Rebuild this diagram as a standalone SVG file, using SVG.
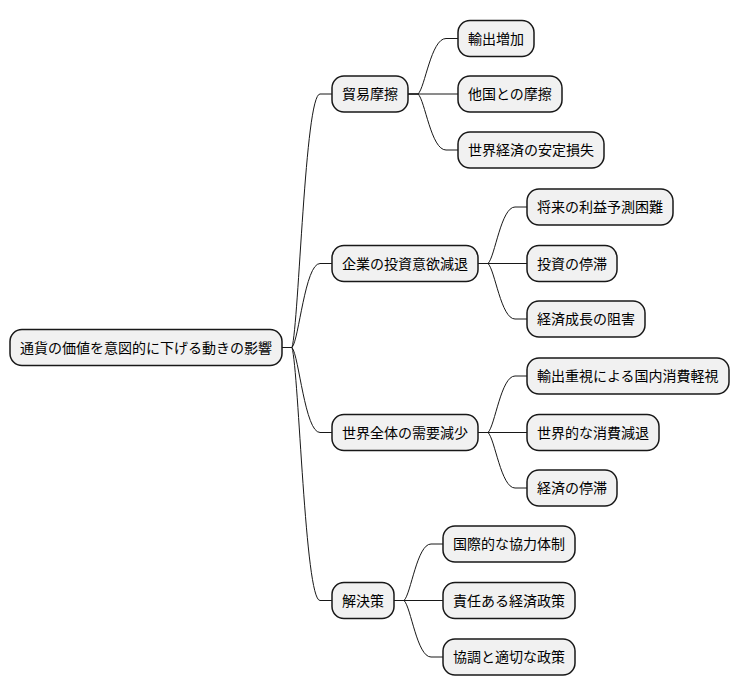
<svg xmlns="http://www.w3.org/2000/svg" width="740" height="696" viewBox="0 0 740 696">
<style>
.n rect{fill:#f1f1f1;stroke:#181818;stroke-width:1.5}
.n text{font-family:"Noto Sans CJK JP","Noto Sans",sans-serif;font-size:14px;fill:#000}
.c path{fill:none;stroke:#181818;stroke-width:1}
</style>
<rect width="740" height="696" fill="#fff"/>
<g class="c">
<path d="M282,347.5 L292,347.5 C299,322 305,94 320,94 L332,94"/>
<path d="M282,347.5 L292,347.5 C299,340 305,263.5 320,263.5 L332,263.5"/>
<path d="M282,347.5 L292,347.5 C299,356 305,432.5 320,432.5 L332,432.5"/>
<path d="M282,347.5 L292,347.5 C299,373 305,600.5 320,600.5 L332,600.5"/>
<path d="M408,94 L418,94 C425,88 431,38.5 446,38.5 L458,38.5"/>
<path d="M408,94 L458,94"/>
<path d="M408,94 L418,94 C425,100 431,150 446,150 L458,150"/>
<path d="M478,263.5 L488,263.5 C495,257 501,207 515,207 L527,207"/>
<path d="M478,263.5 L527,263.5"/>
<path d="M478,263.5 L488,263.5 C495,270 501,319 515,319 L527,319"/>
<path d="M478,432.5 L488,432.5 C495,426 501,376 515,376 L527,376"/>
<path d="M478,432.5 L527,432.5"/>
<path d="M478,432.5 L488,432.5 C495,439 501,488 515,488 L527,488"/>
<path d="M394,600.5 L404,600.5 C411,594 417,544 431,544 L443,544"/>
<path d="M394,600.5 L443,600.5"/>
<path d="M394,600.5 L404,600.5 C411,607 417,657 431,657 L443,657"/>
</g>
<g id="root" class="n"><rect x="10" y="329.5" width="272" height="36" rx="12"/><text x="20" y="352.5">通貨の価値を意図的に下げる動きの影響</text></g>
<g id="n1" class="n"><rect x="332" y="76" width="76" height="36" rx="12"/><text x="342" y="99">貿易摩擦</text></g>
<g id="n2" class="n"><rect x="332" y="245.5" width="146" height="36" rx="12"/><text x="342" y="268.5">企業の投資意欲減退</text></g>
<g id="n3" class="n"><rect x="332" y="414.5" width="146" height="36" rx="12"/><text x="342" y="437.5">世界全体の需要減少</text></g>
<g id="n4" class="n"><rect x="332" y="582.5" width="62" height="36" rx="12"/><text x="342" y="605.5">解決策</text></g>
<g id="n1a" class="n"><rect x="458" y="20.5" width="76" height="36" rx="12"/><text x="468" y="43.5">輸出増加</text></g>
<g id="n1b" class="n"><rect x="458" y="76" width="104" height="36" rx="12"/><text x="468" y="99">他国との摩擦</text></g>
<g id="n1c" class="n"><rect x="458" y="132" width="146" height="36" rx="12"/><text x="468" y="155">世界経済の安定損失</text></g>
<g id="n2a" class="n"><rect x="527" y="189" width="146" height="36" rx="12"/><text x="537" y="212">将来の利益予測困難</text></g>
<g id="n2b" class="n"><rect x="527" y="245.5" width="90" height="36" rx="12"/><text x="537" y="268.5">投資の停滞</text></g>
<g id="n2c" class="n"><rect x="527" y="301" width="118" height="36" rx="12"/><text x="537" y="324">経済成長の阻害</text></g>
<g id="n3a" class="n"><rect x="527" y="358" width="202" height="36" rx="12"/><text x="537" y="381">輸出重視による国内消費軽視</text></g>
<g id="n3b" class="n"><rect x="527" y="414.5" width="132" height="36" rx="12"/><text x="537" y="437.5">世界的な消費減退</text></g>
<g id="n3c" class="n"><rect x="527" y="470" width="90" height="36" rx="12"/><text x="537" y="493">経済の停滞</text></g>
<g id="n4a" class="n"><rect x="443" y="526" width="132" height="36" rx="12"/><text x="453" y="549">国際的な協力体制</text></g>
<g id="n4b" class="n"><rect x="443" y="582.5" width="132" height="36" rx="12"/><text x="453" y="605.5">責任ある経済政策</text></g>
<g id="n4c" class="n"><rect x="443" y="639" width="132" height="36" rx="12"/><text x="453" y="662">協調と適切な政策</text></g>
</svg>
